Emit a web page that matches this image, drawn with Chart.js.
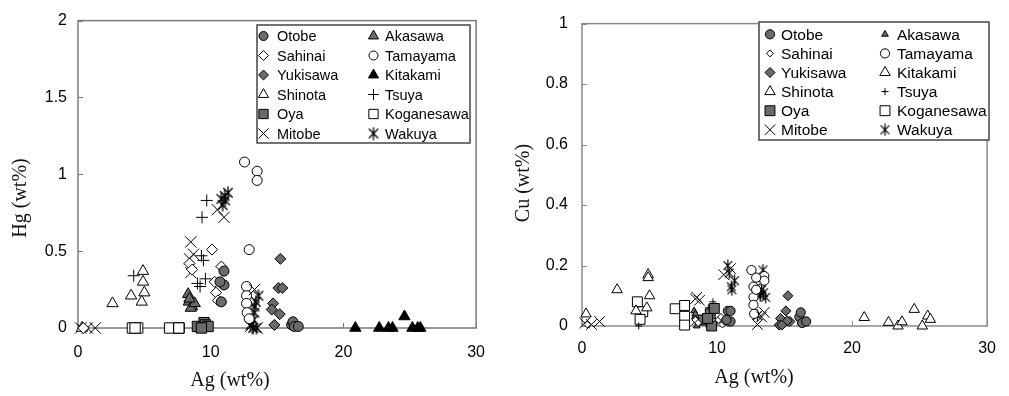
<!DOCTYPE html>
<html><head><meta charset="utf-8">
<script src="https://cdn.jsdelivr.net/npm/chart.js@4.4.1/dist/chart.umd.min.js"></script>
<style>
html,body{margin:0;padding:0;background:#fff;width:1009px;height:396px;overflow:hidden}
#w1{position:absolute;left:0;top:0;width:500px;height:396px}
#w2{position:absolute;left:500px;top:0;width:509px;height:396px}
canvas{display:block}
</style></head><body>
<div id="w1"><canvas id="c1" width="500" height="396"></canvas></div>
<div id="w2"><canvas id="c2" width="509" height="396"></canvas></div>
<script>
// ---------- data ----------
const seriesNames = ['Otobe','Sahinai','Yukisawa','Shinota','Oya','Mitobe','Akasawa','Tamayama','Kitakami','Tsuya','Koganesawa','Wakuya'];
const xTicks = [0, 10, 20, 30];
const hgTicks = [0, 0.5, 1, 1.5, 2];
const cuTicks = [0, 0.2, 0.4, 0.6, 0.8, 1];

const otobeAg = [10.8, 11.0, 11.0, 10.7, 16.1, 16.2, 16.3, 16.6];
const otobeHg = [0.17, 0.28, 0.37, 0.30, 0.02, 0.04, 0.01, 0.01];
const otobeCu = [0.05, 0.015, 0.05, 0.02, 0.03, 0.045, 0.01, 0.015];

const sahinaiAg = [8.4, 8.6, 10.1, 10.8, 10.3, 10.4, 10.55, 0.4];
const sahinaiHg = [0.42, 0.38, 0.51, 0.40, 0.30, 0.23, 0.18, 0.0];
const sahinaiCu = [0.02, 0.01, 0.02, 0.01, 0.03, 0.005, 0.015, 0.005];

const yukisawaAg = [15.25, 15.1, 15.4, 14.7, 14.6, 15.2, 14.8];
const yukisawaHg = [0.45, 0.26, 0.26, 0.16, 0.12, 0.09, 0.02];
const yukisawaCu = [0.10, 0.05, 0.015, 0.025, 0.003, 0.017, 0.003];

const shinotaAg = [2.6, 4.0, 4.9, 4.9, 5.0, 4.8, 0.3];
const shinotaHg = [0.16, 0.21, 0.37, 0.30, 0.23, 0.17, 0.0];
const shinotaCu = [0.12, 0.05, 0.17, 0.16, 0.10, 0.06, 0.04];

const oyaAg = [9.0, 9.5, 9.6, 9.8, 9.3];
const oyaHg = [0.01, 0.035, 0.02, 0.01, 0.0];
const oyaCu = [0.02, 0.04, 0.0, 0.058, 0.025];

const mitobeAg = [0.2, 0.7, 1.3, 8.5, 8.7, 8.4, 8.5, 10.5, 11.0, 13.3, 13.0, 13.5];
const mitobeHg = [0, 0, 0, 0.56, 0.48, 0.45, 0.36, 0.77, 0.72, 0.25, 0.01, 0.0];
const mitobeCu = [0.01, 0.005, 0.015, 0.095, 0.085, 0.09, 0.02, 0.17, 0.19, 0.03, 0.005, 0.045];

const akasawaAg = [8.3, 8.35, 8.6, 8.5, 8.8, 8.4];
const akasawaHg = [0.22, 0.17, 0.14, 0.13, 0.16, 0.19];
const akasawaCu = [0.05, 0.03, 0.01, 0.0, 0.02, 0.04];

const tamayamaAg = [12.55, 13.5, 13.5, 12.9, 12.7, 12.7, 12.7, 12.75, 12.9];
const tamayamaHg = [1.08, 1.02, 0.96, 0.51, 0.27, 0.21, 0.16, 0.10, 0.06];
const tamayamaCu = [0.185, 0.165, 0.15, 0.16, 0.13, 0.095, 0.07, 0.04, 0.12];

const kitakamiAg = [20.9, 22.7, 23.4, 23.7, 24.6, 25.2, 25.6, 25.8];
const kitakamiHg = [0, 0, 0, 0, 0.075, 0, 0, 0];
const kitakamiCu = [0.028, 0.012, 0.0, 0.014, 0.055, 0.0, 0.033, 0.022];

const tsuyaAg = [4.2, 9.7, 9.35, 9.3, 9.45, 9.6, 9.2, 9.0];
const tsuyaHg = [0.34, 0.83, 0.72, 0.47, 0.44, 0.32, 0.27, 0.29];
const tsuyaCu = [0.0, 0.08, 0.06, 0.03, 0.02, 0.01, 0.005, 0.015];

const koganesawaAg = [4.1, 4.5, 4.3, 6.9, 7.6, 7.6, 7.6];
const koganesawaHg = [0, 0, 0, 0, 0, 0, 0];
const koganesawaCu = [0.08, 0.047, 0.022, 0.057, 0.068, 0.032, 0.003];

const wakuyaAg = [10.8, 11.05, 11.3, 10.9, 11.1, 13.3, 13.3, 13.4, 13.2, 13.0, 13.2, 13.45, 13.6];
const wakuyaHg = [0.84, 0.86, 0.88, 0.80, 0.83, 0.14, 0.10, 0.17, 0.05, 0.02, 0.0, 0.0, 0.21];
const wakuyaCu = [0.2, 0.13, 0.15, 0.175, 0.12, 0.145, 0.12, 0.185, 0.105, 0.035, 0.1, 0.11, 0.095];

const agSets = [otobeAg, sahinaiAg, yukisawaAg, shinotaAg, oyaAg, mitobeAg, akasawaAg, tamayamaAg, kitakamiAg, tsuyaAg, koganesawaAg, wakuyaAg];
const hgSets = [otobeHg, sahinaiHg, yukisawaHg, shinotaHg, oyaHg, mitobeHg, akasawaHg, tamayamaHg, kitakamiHg, tsuyaHg, koganesawaHg, wakuyaHg];
const cuSets = [otobeCu, sahinaiCu, yukisawaCu, shinotaCu, oyaCu, mitobeCu, akasawaCu, tamayamaCu, kitakamiCu, tsuyaCu, koganesawaCu, wakuyaCu];

// ---------- styles ----------
const GRAY = '#6b6b6b';
function asterisk(size, lw){
  const c = document.createElement('canvas'); c.width = size; c.height = size;
  const g = c.getContext('2d'); g.strokeStyle = '#000'; g.lineWidth = lw;
  const m = size/2, a = size/2 - 0.5, d = a*0.72;
  g.beginPath();
  g.moveTo(m-d, m-d); g.lineTo(m+d, m+d);
  g.moveTo(m+d, m-d); g.lineTo(m-d, m+d);
  g.moveTo(m, m-a); g.lineTo(m, m+a);
  g.stroke();
  return c;
}
const leftStyles = [
  {ps:'circle', r:5, bg:GRAY},
  {ps:'rectRot', r:5.5, bg:'#fff'},
  {ps:'rectRot', r:5.5, bg:GRAY},
  {ps:'triangle', r:6.5, bg:'#fff'},
  {ps:'rect', r:7.3, bg:GRAY},
  {ps:'crossRot', r:8, bg:'#000'},
  {ps:'triangle', r:6.5, bg:GRAY},
  {ps:'circle', r:5, bg:'#fff'},
  {ps:'triangle', r:6.5, bg:'#000'},
  {ps:'cross', r:6, bg:'#000'},
  {ps:'rect', r:7.3, bg:'#fff'},
  {ps:asterisk(14, 1.3), r:7, bg:'#000'}
];
const rightStyles = [
  {ps:'circle', r:4.6, bg:GRAY},
  {ps:'rectRot', r:3.5, bg:'#fff'},
  {ps:'rectRot', r:5, bg:GRAY},
  {ps:'triangle', r:6, bg:'#fff'},
  {ps:'rect', r:7, bg:GRAY},
  {ps:'crossRot', r:7.5, bg:'#000'},
  {ps:'triangle', r:3.8, bg:GRAY},
  {ps:'circle', r:4.6, bg:'#fff'},
  {ps:'triangle', r:6, bg:'#fff'},
  {ps:'cross', r:3.5, bg:'#000'},
  {ps:'rect', r:7, bg:'#fff'},
  {ps:asterisk(13, 1.2), r:6.5, bg:'#000'}
];

// ---------- decoration plugin ----------
const deco = {
  id: 'deco',
  beforeDatasetsDraw(chart, args, o){
    const {ctx, chartArea:a, scales:{x, y}} = chart;
    ctx.save();
    ctx.strokeStyle = o.frameColor; ctx.lineWidth = 1.5;
    ctx.strokeRect(a.left, a.top, a.right - a.left, a.bottom - a.top);
    ctx.beginPath();
    x.ticks.forEach(t => { const p = Math.round(x.getPixelForValue(t.value)) + 0.5; ctx.moveTo(p, a.bottom); ctx.lineTo(p, a.bottom - 5); });
    y.ticks.forEach(t => { const p = Math.round(y.getPixelForValue(t.value)) + 0.5; ctx.moveTo(a.left, p); ctx.lineTo(a.left + 5, p); });
    ctx.lineWidth = 1; ctx.stroke();
    ctx.restore();
  },
  afterDatasetsDraw(chart, args, o){
    const ctx = chart.ctx;
    ctx.save();
    // axis titles
    ctx.fillStyle = '#111';
    ctx.font = o.titleFont;
    ctx.textAlign = 'center'; ctx.textBaseline = 'middle';
    ctx.fillText(o.xTitle, o.xTitlePos[0], o.xTitlePos[1]);
    ctx.save();
    ctx.translate(o.yTitlePos[0], o.yTitlePos[1]); ctx.rotate(-Math.PI/2);
    ctx.fillText(o.yTitle, 0, 0);
    ctx.restore();
    // legend
    const L = o.legend;
    ctx.fillStyle = '#fff';
    ctx.fillRect(L.x, L.y, L.w, L.h);
    ctx.strokeStyle = '#444'; ctx.lineWidth = 1.5;
    ctx.strokeRect(L.x, L.y, L.w, L.h);
    ctx.font = L.font; ctx.textAlign = 'left'; ctx.textBaseline = 'middle';
    chart.data.datasets.forEach((ds, i) => {
      const col = Math.floor(i / 6), row = i % 6;
      const cy = L.y0 + row * L.dy;
      const mx = L.mx[col], tx = L.tx[col];
      ctx.save();
      ctx.fillStyle = ds.backgroundColor; ctx.strokeStyle = '#000'; ctx.lineWidth = ds.pointBorderWidth;
      if (Chart.helpers && Chart.helpers.drawPoint) {
        Chart.helpers.drawPoint(ctx, {pointStyle: ds.pointStyle, radius: ds.pointRadius * L.scale, rotation: 0, borderWidth: ds.pointBorderWidth}, mx, cy);
      } else {
        ctx.beginPath(); ctx.arc(mx, cy, ds.pointRadius, 0, Math.PI*2); ctx.fill(); ctx.stroke();
      }
      ctx.restore();
      ctx.fillStyle = '#000';
      ctx.fillText(ds.label, tx, cy + 1);
    });
    ctx.restore();
  }
};

function build(id, ySets, styles, cfg){
  const datasets = seriesNames.map((name, i) => ({
    label: name,
    data: agSets[i].map((ag, j) => ({x: ag, y: ySets[i][j]})),
    pointStyle: styles[i].ps,
    pointRadius: styles[i].r,
    pointHoverRadius: styles[i].r,
    backgroundColor: styles[i].bg,
    borderColor: '#000',
    pointBorderWidth: 1,
    borderWidth: 1,
    showLine: false,
    clip: false
  }));
  const tickFont = {family: "'Liberation Sans', Arial, sans-serif", size: 16};
  const fmt = v => String(Math.round(v * 100) / 100);
  return new Chart(document.getElementById(id), {
    type: 'scatter',
    data: {datasets},
    options: {
      responsive: false, animation: false, devicePixelRatio: 1,
      events: [],
      layout: {padding: cfg.padding},
      scales: {
        x: {
          type: 'linear', min: 0, max: 30,
          afterBuildTicks: s => { s.ticks = xTicks.map(v => ({value: v})); },
          afterFit: s => { s.height = cfg.xH; },
          ticks: {padding: cfg.xPad, color: '#000', font: tickFont, maxRotation: 0, autoSkip: false, callback: fmt},
          grid: {display: false, drawTicks: false},
          border: {display: false}
        },
        y: {
          type: 'linear', min: 0, max: cfg.yTicks[cfg.yTicks.length - 1],
          afterBuildTicks: s => { s.ticks = cfg.yTicks.map(v => ({value: v})); },
          afterFit: s => { s.width = cfg.yW; },
          ticks: {padding: cfg.yPad, color: '#000', font: tickFont, autoSkip: false, callback: fmt},
          grid: {display: false, drawTicks: false},
          border: {display: false}
        }
      },
      plugins: {
        legend: {display: false},
        tooltip: {enabled: false},
        deco: cfg.deco
      }
    },
    plugins: [deco]
  });
}

build('c1', hgSets, leftStyles, {
  padding: {left: 0, top: 18, right: 22, bottom: 0},
  xH: 68, yW: 78, xPad: 15, yPad: 11, yTicks: hgTicks,
  deco: {
    frameColor: '#7a7a7a',
    titleFont: "20px 'Liberation Serif', 'Times New Roman', serif",
    xTitle: 'Ag (wt%)', xTitlePos: [230, 381],
    yTitle: 'Hg (wt%)', yTitlePos: [21, 198],
    legend: {x: 257, y: 25, w: 213, h: 118, y0: 36, dy: 19.5, mx: [263.5, 373.5], tx: [277, 385], font: "14.5px 'Liberation Sans', Arial, sans-serif", scale: 0.9}
  }
});
build('c2', cuSets, rightStyles, {
  padding: {left: 0, top: 19.5, right: 10, bottom: 0},
  xH: 70, yW: 82, xPad: 13, yPad: 14, yTicks: cuTicks,
  deco: {
    frameColor: '#8a8a8a',
    titleFont: "20px 'Liberation Serif', 'Times New Roman', serif",
    xTitle: 'Ag (wt%)', xTitlePos: [254, 378],
    yTitle: 'Cu (wt%)', yTitlePos: [23.5, 183],
    legend: {x: 259, y: 22, w: 230, h: 118, y0: 34.3, dy: 19.1, mx: [270, 385], tx: [281, 397], font: "15.5px 'Liberation Sans', Arial, sans-serif", scale: 1}
  }
});
</script>
</body></html>
